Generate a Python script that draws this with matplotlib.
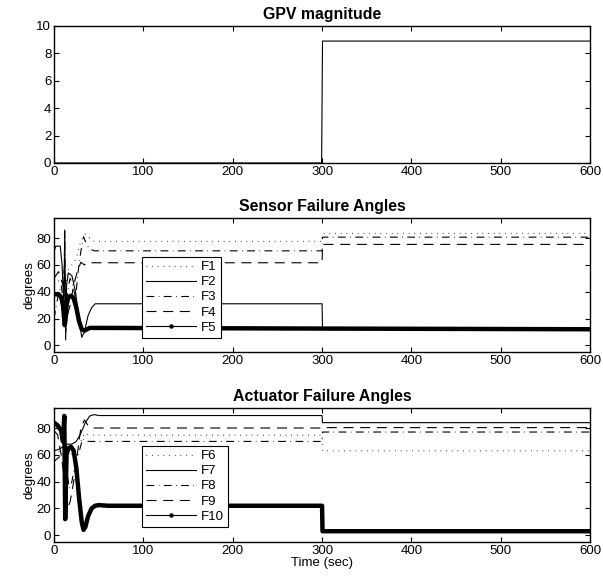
import matplotlib
matplotlib.use('Agg')
import matplotlib.pyplot as plt
from matplotlib.lines import Line2D

plt.rcParams['font.family'] = ['Liberation Sans', 'DejaVu Sans']
plt.rcParams['font.size'] = 9.5

# GPV magnitude
t_gpv = [0, 299.5, 300.5, 600]
gpv = [0, 0, 8.9, 8.9]

# sensor failure angles
t_f1 = [0, 5, 10, 12, 15, 20, 25, 30, 35, 40, 45, 300, 300.5, 600]
f1 = [45, 48, 50, 30, 55, 60, 65, 78, 83, 80, 77.5, 77.5, 83.5, 83.5]
t_f2 = [0, 2, 7, 9, 11, 12, 13, 14, 16, 20, 24, 28, 31, 34, 38, 42, 46, 50, 300, 300.5, 600]
f2 = [70, 74, 74, 60, 30, 86, 4, 45, 54, 52, 40, 20, 6, 10, 22, 28, 31, 31, 31, 12, 12]
t_f3 = [0, 4, 8, 11, 12, 13, 15, 18, 21, 24, 27, 30, 33, 36, 40, 45, 300, 300.5, 600]
f3 = [20, 35, 45, 30, 85, 10, 40, 50, 45, 35, 55, 70, 81, 76, 72, 70.5, 70.5, 80.7, 80.7]
t_f4 = [0, 5, 10, 12, 14, 18, 22, 26, 30, 34, 38, 42, 46, 300, 300.5, 600]
f4 = [50, 55, 45, 60, 20, 30, 45, 55, 62, 60, 62, 61.6, 61.6, 61.6, 75.3, 75.3]
t_f5 = [0, 5, 8, 10, 12, 13, 14, 16, 19, 22, 25, 28, 31, 34, 37, 40, 50, 300, 600]
f5 = [38, 38, 36, 30, 15, 20, 30, 36, 37, 35, 28, 18, 12, 11, 12, 13, 13, 12.5, 12]

# actuator failure angles
t_f6 = [0, 5, 10, 12, 14, 18, 22, 26, 30, 34, 38, 42, 300, 300.5, 600]
f6 = [60, 62, 65, 40, 55, 60, 62, 65, 70, 76, 75, 74.6, 74.6, 63, 63]
t_f7 = [0, 5, 10, 15, 20, 25, 30, 35, 40, 45, 50, 60, 300, 300.5, 600]
f7 = [63, 64, 66, 68, 68, 70, 76, 84, 89, 90, 89.3, 89.3, 89.3, 84, 84]
t_f8 = [0, 5, 10, 12, 14, 17, 20, 24, 28, 32, 36, 40, 45, 300, 300.5, 600]
f8 = [55, 58, 60, 30, 50, 35, 40, 55, 62, 72, 70, 70, 70, 70, 77, 77]
t_f9 = [0, 4, 8, 12, 15, 18, 22, 26, 30, 34, 38, 42, 48, 300, 300.5, 600]
f9 = [78, 75, 60, 40, 20, 25, 40, 60, 80, 86, 82, 80, 80, 80, 80.3, 80.3]
t_f10 = [0, 4, 8, 10, 11.5, 12.5, 14, 16, 19, 22, 25, 28, 31, 33, 35, 38, 42, 46, 50, 60, 300, 300.5, 600]
f10 = [84, 82, 78, 70, 89, 12, 60, 65, 66, 63, 50, 28, 10, 4, 6, 14, 20, 22, 22.5, 22, 22, 3, 3]

styles = [(0, (0.6, 4.5)), '-', (0, (7, 4, 0.6, 4)), (0, (9, 6)), '-']
sensor_labels = ['F1', 'F2', 'F3', 'F4', 'F5']
actuator_labels = ['F6', 'F7', 'F8', 'F9', 'F10']


def style_axes(ax):
    ax.set_xlim(0, 600)
    ax.set_xticks(range(0, 601, 100))
    ax.tick_params(direction='in', top=True, right=True, length=3.5, width=0.8, pad=2)
    for s in ax.spines.values():
        s.set_linewidth(1.0)


def draw_panel(ax, series, labels, title):
    handles = []
    for i, (t, v) in enumerate(series):
        if i == 4:
            ax.plot(t, v, color='k', lw=3.2)
            h = Line2D([], [], color='k', lw=0.8, marker='o', ms=2.2)
        else:
            h, = ax.plot(t, v, color='k', lw=0.8, linestyle=styles[i])
        handles.append(h)
    ax.set_ylim(-5, 95)
    ax.set_yticks(range(0, 81, 20))
    ax.set_ylabel('degrees', labelpad=1)
    ax.set_title(title, fontweight='bold', pad=5)
    style_axes(ax)
    return handles


fig = plt.figure(figsize=(6.03, 5.79), dpi=100)
ax1 = fig.add_axes([0.0896, 0.7185, 0.889, 0.2366])
ax2 = fig.add_axes([0.0896, 0.392, 0.889, 0.2315])
ax3 = fig.add_axes([0.0896, 0.064, 0.889, 0.2315])

ax1.plot(t_gpv, gpv, color='k', lw=0.8)
ax1.set_ylim(0, 10)
ax1.set_yticks(range(0, 11, 2))
ax1.set_title('GPV magnitude', fontweight='bold', pad=5)
style_axes(ax1)

h2 = draw_panel(ax2, [(t_f1, f1), (t_f2, f2), (t_f3, f3), (t_f4, f4), (t_f5, f5)],
                sensor_labels, 'Sensor Failure Angles')
leg2 = ax2.legend(h2, sensor_labels, loc='upper left', bbox_to_anchor=(0.164, 0.709),
                  handlelength=3.8, labelspacing=0.22, borderpad=0.3, handletextpad=0.4,
                  fancybox=False, framealpha=1, edgecolor='k', borderaxespad=0)
leg2.get_frame().set_linewidth(0.8)

h3 = draw_panel(ax3, [(t_f6, f6), (t_f7, f7), (t_f8, f8), (t_f9, f9), (t_f10, f10)],
                actuator_labels, 'Actuator Failure Angles')
leg3 = ax3.legend(h3, actuator_labels, loc='upper left', bbox_to_anchor=(0.164, 0.716),
                  handlelength=3.8, labelspacing=0.22, borderpad=0.3, handletextpad=0.4,
                  fancybox=False, framealpha=1, edgecolor='k', borderaxespad=0)
leg3.get_frame().set_linewidth(0.8)
ax3.set_xlabel('Time (sec)', labelpad=0)

fig.savefig('out.png', dpi=100)
